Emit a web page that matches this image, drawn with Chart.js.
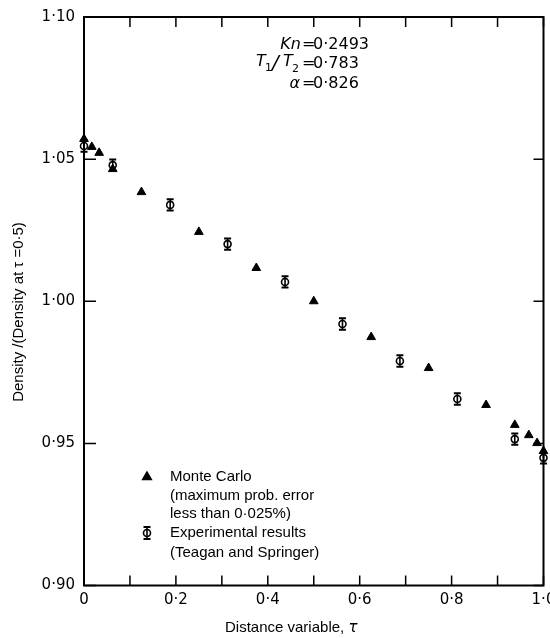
<!DOCTYPE html>
<html><head><meta charset="utf-8">
<script src="https://cdn.jsdelivr.net/npm/chart.js@4/dist/chart.umd.min.js"></script>
<style>html,body{margin:0;padding:0;background:#fff;}#wrap{width:550px;height:638px;position:relative;}</style>
</head><body><div id="wrap"><canvas id="c"></canvas></div>
<script>
// ---- data ----
const monteCarloTau = [0, 0.017, 0.033, 0.0625, 0.125, 0.25, 0.375, 0.5, 0.625, 0.75, 0.875, 0.9375, 0.968, 0.986, 1.0];
const monteCarloDensity = [1.0571, 1.0543, 1.0522, 1.0465, 1.0384, 1.0244, 1.0117, 1.0000, 0.9874, 0.9765, 0.9635, 0.9565, 0.9529, 0.9501, 0.9473];
const experimentTau = [0, 0.0625, 0.1875, 0.3125, 0.4375, 0.5625, 0.6875, 0.8125, 0.9375, 1.0];
const experimentDensity = [1.0546, 1.0479, 1.0339, 1.0201, 1.0068, 0.9920, 0.9790, 0.9656, 0.9515, 0.9449];
const experimentError = [0.0020, 0.0020, 0.0020, 0.0020, 0.0020, 0.0020, 0.0020, 0.0020, 0.0020, 0.0020];
const xTickValues = [0, 0.2, 0.4, 0.6, 0.8, 1.0];
const xTickLabels = ['0', '0·2', '0·4', '0·6', '0·8', '1·0'];
const xMinorTickValues = [0.1, 0.3, 0.5, 0.7, 0.9];
const yTickValues = [0.90, 0.95, 1.00, 1.05, 1.10];
const yTickLabels = ['0·90', '0·95', '1·00', '1·05', '1·10'];
const legendLabels = [['Monte Carlo', '(maximum prob. error', 'less than 0·025%)'], ['Experimental results', '(Teagan and Springer)']];
const paramLabels = ['Kn', 'T1/T2', 'α'];
const paramValues = ['0·2493', '0·783', '0·826'];
const xTitle = 'Distance variable, ';
const yTitle = 'Density /(Density at τ =0·5)';

const INK = '#000';
const TEXT_FONT = "15px 'Liberation Sans'";

function drawPhi(ctx, x, yTop, yBot) {
  ctx.save();
  ctx.strokeStyle = INK;
  ctx.lineWidth = 1.6;
  ctx.beginPath();
  ctx.moveTo(x, yTop); ctx.lineTo(x, yBot);
  ctx.stroke();
  ctx.lineWidth = 2;
  ctx.beginPath();
  ctx.moveTo(x - 3.5, yTop); ctx.lineTo(x + 3.5, yTop);
  ctx.moveTo(x - 3.5, yBot); ctx.lineTo(x + 3.5, yBot);
  ctx.stroke();
  ctx.restore();
}

const decor = {
  id: 'decor',
  afterDatasetsDraw(chart) {
    const ctx = chart.ctx;
    const xs = chart.scales.x, ys = chart.scales.y;
    const a = chart.chartArea;
    experimentTau.forEach((t, i) => {
      const px = xs.getPixelForValue(t);
      const yT = ys.getPixelForValue(experimentDensity[i] + experimentError[i]);
      const yB = ys.getPixelForValue(experimentDensity[i] - experimentError[i]);
      drawPhi(ctx, px, yT, yB);
    });
    ctx.save();
    ctx.strokeStyle = INK;
    ctx.lineWidth = 2;
    ctx.strokeRect(a.left, a.top, a.right - a.left, a.bottom - a.top);
    ctx.lineWidth = 1.5;
    ctx.beginPath();
    xTickValues.concat(xMinorTickValues).forEach(v => {
      const px = xs.getPixelForValue(v);
      ctx.moveTo(px, a.bottom); ctx.lineTo(px, a.bottom - 10);
      ctx.moveTo(px, a.top); ctx.lineTo(px, a.top + 10);
    });
    yTickValues.forEach(v => {
      const py = ys.getPixelForValue(v);
      ctx.moveTo(a.left, py); ctx.lineTo(a.left + 12, py);
      ctx.moveTo(a.right, py); ctx.lineTo(a.right - 10, py);
    });
    ctx.stroke();

    // parameter block
    ctx.fillStyle = INK;
    ctx.textBaseline = 'middle';
    const eqX = 302, valX = 313;
    const rows = [45, 64, 84];
    ctx.font = "16px 'DejaVu Sans'";
    ctx.textAlign = 'left';
    rows.forEach((ry, i) => {
      ctx.fillText('=', eqX, ry);
      ctx.fillText(paramValues[i], valX, ry);
    });
    ctx.font = "italic 16px 'DejaVu Sans'";
    ctx.textAlign = 'right';
    ctx.fillText(paramLabels[0], eqX - 1, rows[0]);
    ctx.textAlign = 'left';
    ctx.fillText('T', 256, rows[1] - 2);
    ctx.font = "11px 'DejaVu Sans'";
    ctx.fillText('1', 265, rows[1] + 4);
    ctx.font = "italic 20px 'DejaVu Sans'";
    ctx.fillText('/', 272, rows[1]);
    ctx.font = "italic 16px 'DejaVu Sans'";
    ctx.fillText('T', 283, rows[1] - 2);
    ctx.font = "11px 'DejaVu Sans'";
    ctx.fillText('2', 292, rows[1] + 5);
    ctx.font = "italic 16px 'DejaVu Sans'";
    ctx.textAlign = 'right';
    ctx.fillText(paramLabels[2], eqX - 2, rows[2]);

    // legend
    Chart.helpers.drawPoint(ctx, {pointStyle: 'triangle', radius: 5, rotation: 0, borderWidth: 1}, 147, 477);
    ctx.fillStyle = INK;
    ctx.strokeStyle = INK;
    ctx.fill();
    ctx.save();
    ctx.fillStyle = '#fff';
    ctx.lineWidth = 1.6;
    ctx.beginPath(); ctx.arc(147, 533, 3.5, 0, Math.PI * 2); ctx.fill(); ctx.stroke();
    ctx.restore();
    drawPhi(ctx, 147, 527, 539);
    ctx.fillStyle = INK;
    ctx.font = TEXT_FONT;
    ctx.textAlign = 'left';
    const lys = [[477, 496, 514], [533, 553]];
    legendLabels.forEach((grp, g) => grp.forEach((s, k) => ctx.fillText(s, 170, lys[g][k])));

    // axis titles
    ctx.font = TEXT_FONT;
    ctx.textAlign = 'left';
    ctx.fillText(xTitle, 225, 628);
    const w = ctx.measureText(xTitle).width;
    ctx.font = "italic 15px 'DejaVu Sans'";
    ctx.fillText('τ', 225 + w, 628);
    ctx.save();
    ctx.translate(18.5, 312);
    ctx.rotate(-Math.PI / 2);
    ctx.font = TEXT_FONT;
    ctx.textAlign = 'center';
    ctx.fillText(yTitle, 0, 0);
    ctx.restore();
    ctx.restore();
  }
};

new Chart(document.getElementById('c'), {
  type: 'scatter',
  data: {
    datasets: [
      {
        label: 'Monte Carlo',
        data: monteCarloTau.map((t, i) => ({x: t, y: monteCarloDensity[i]})),
        pointStyle: 'triangle', pointRadius: 5, pointHoverRadius: 5,
        backgroundColor: INK, borderColor: INK, borderWidth: 1, clip: false
      },
      {
        label: 'Experimental results',
        data: experimentTau.map((t, i) => ({x: t, y: experimentDensity[i]})),
        pointStyle: 'circle', pointRadius: 3.5, pointHoverRadius: 3.5,
        backgroundColor: '#fff', borderColor: INK, borderWidth: 1.6, clip: false
      }
    ]
  },
  options: {
    responsive: true, maintainAspectRatio: false, animation: false,
    events: [],
    layout: {padding: {left: 0, top: 17, right: 6.5, bottom: 0}},
    plugins: {legend: {display: false}, tooltip: {enabled: false}},
    scales: {
      x: {
        type: 'linear', min: 0, max: 1,
        afterBuildTicks: s => { s.ticks = xTickValues.map(v => ({value: v})); },
        afterFit: s => { s.height = 52.5; s.paddingLeft = 0; s.paddingRight = 0; },
        grid: {display: false, drawTicks: false},
        border: {display: false},
        ticks: {
          padding: 6, color: INK, font: {family: 'DejaVu Sans', size: 15},
          maxRotation: 0, autoSkip: false,
          callback: (v, i) => xTickLabels[i]
        }
      },
      y: {
        type: 'linear', min: 0.90, max: 1.10,
        afterBuildTicks: s => { s.ticks = yTickValues.map(v => ({value: v})); },
        afterFit: s => { s.width = 84; s.paddingTop = 0; s.paddingBottom = 0; },
        grid: {display: false, drawTicks: false},
        border: {display: false},
        ticks: {
          padding: 9, color: INK, font: {family: 'DejaVu Sans', size: 15},
          autoSkip: false,
          callback: (v, i) => yTickLabels[i]
        }
      }
    }
  },
  plugins: [decor]
});
</script>
</body></html>
